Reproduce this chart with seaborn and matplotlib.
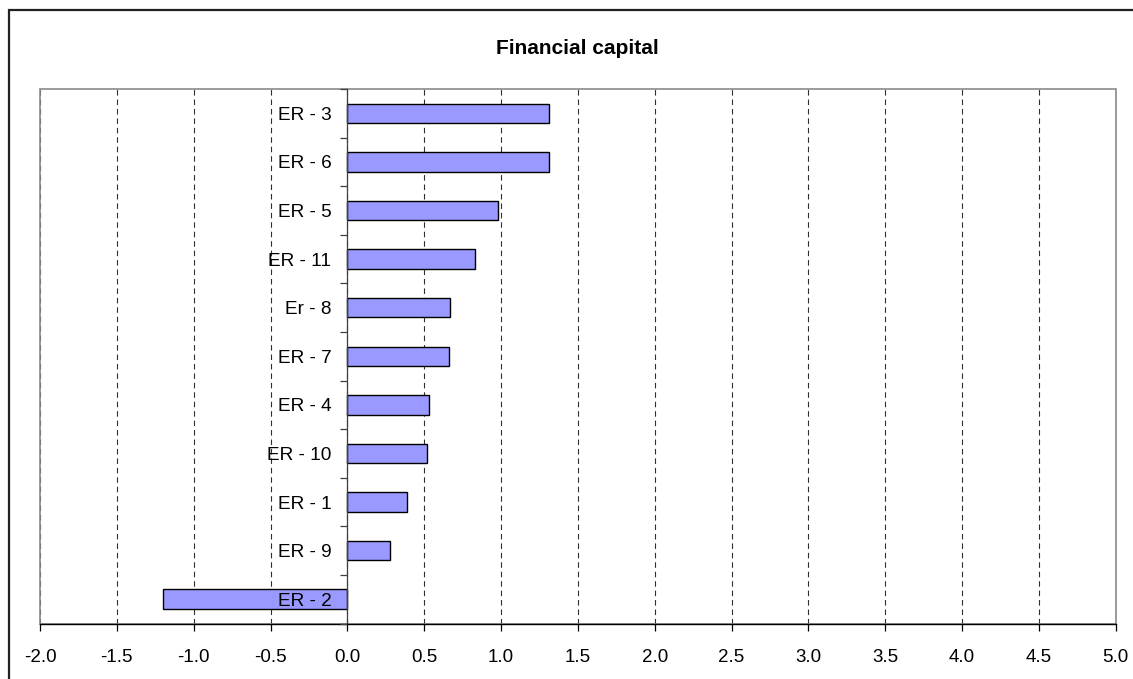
import matplotlib
matplotlib.use("Agg")
import matplotlib.pyplot as plt
from matplotlib.patches import Rectangle
from matplotlib.ticker import MultipleLocator, FixedLocator, FormatStrFormatter
import seaborn as sns
import pandas as pd

# Scores per region, listed top to bottom
regions = ["ER - 3", "ER - 6", "ER - 5", "ER - 11", "Er - 8", "ER - 7",
           "ER - 4", "ER - 10", "ER - 1", "ER - 9", "ER - 2"]
scores = [1.31, 1.31, 0.98, 0.83, 0.67, 0.66, 0.53, 0.52, 0.39, 0.28, -1.20]
title = "Financial capital"
x_min, x_max, x_step = -2.0, 5.0, 0.5

sns.set_style("white")
plt.rcParams["font.family"] = ["Liberation Sans", "DejaVu Sans"]
plt.rcParams["text.color"] = "black"
plt.rcParams["axes.labelcolor"] = "black"
plt.rcParams["xtick.color"] = "black"
plt.rcParams["ytick.color"] = "black"

df = pd.DataFrame({"region": regions, "score": scores})

fig = plt.figure(figsize=(11.33, 6.79), dpi=100)
ax = fig.add_axes([40 / 1133, 1 - 623.5 / 679, (1115.7 - 40) / 1133, (623.5 - 89) / 679])

sns.barplot(data=df, x="score", y="region", orient="h", order=regions,
            color="#9999FF", saturation=1, edgecolor="black", linewidth=1.0,
            width=0.4, ax=ax, zorder=2)

ax.set_xlim(x_min, x_max)
ax.set_ylim(len(regions) - 0.5, -0.5)
ax.set_xlabel("")
ax.set_ylabel("")

# dashed vertical gridlines behind the bars
ax.xaxis.set_major_locator(MultipleLocator(x_step))
ax.xaxis.set_major_formatter(FormatStrFormatter("%.1f"))
ax.grid(axis="x", linestyle=(0, (5, 3.5)), color="#303030", linewidth=0.8)
ax.grid(axis="y", visible=False)
ax.set_axisbelow(True)
ax.yaxis.set_zorder(3)

# category axis sits at zero, ticks between categories
ax.spines["left"].set_position(("data", 0))
ax.spines["left"].set_color("#404040")
ax.spines["left"].set_linewidth(0.9)
ax.spines["bottom"].set_color("black")
ax.spines["bottom"].set_linewidth(1.0)
ax.spines["top"].set_visible(False)
ax.spines["right"].set_visible(False)
ax.yaxis.set_minor_locator(FixedLocator([i - 0.5 for i in range(len(regions) + 1)]))
ax.tick_params(axis="y", which="major", length=0, pad=11.5, labelsize=13.7,
               labelcolor="black")
ax.tick_params(axis="y", which="minor", left=True, length=5, width=0.9,
               color="#404040", direction="out")
ax.tick_params(axis="x", which="major", bottom=True, length=5, width=0.9,
               color="black", direction="out", pad=13, labelsize=13.5,
               labelcolor="black")

# plot-area frame
ax.add_patch(Rectangle((0, 0), 1, 1, transform=ax.transAxes, fill=False,
                       edgecolor="#8a8a8a", linewidth=1.2, zorder=0.6,
                       clip_on=False))

ax.set_title(title, fontsize=15, fontweight="bold", pad=25.5, color="black")

# chart border
fig.patches.append(Rectangle((8.5 / 1133, -0.2), 1.3, 0.2 + (679 - 10) / 679,
                             transform=fig.transFigure, fill=False,
                             edgecolor="#222222", linewidth=1.6))

fig.savefig("out.png", dpi=100)
